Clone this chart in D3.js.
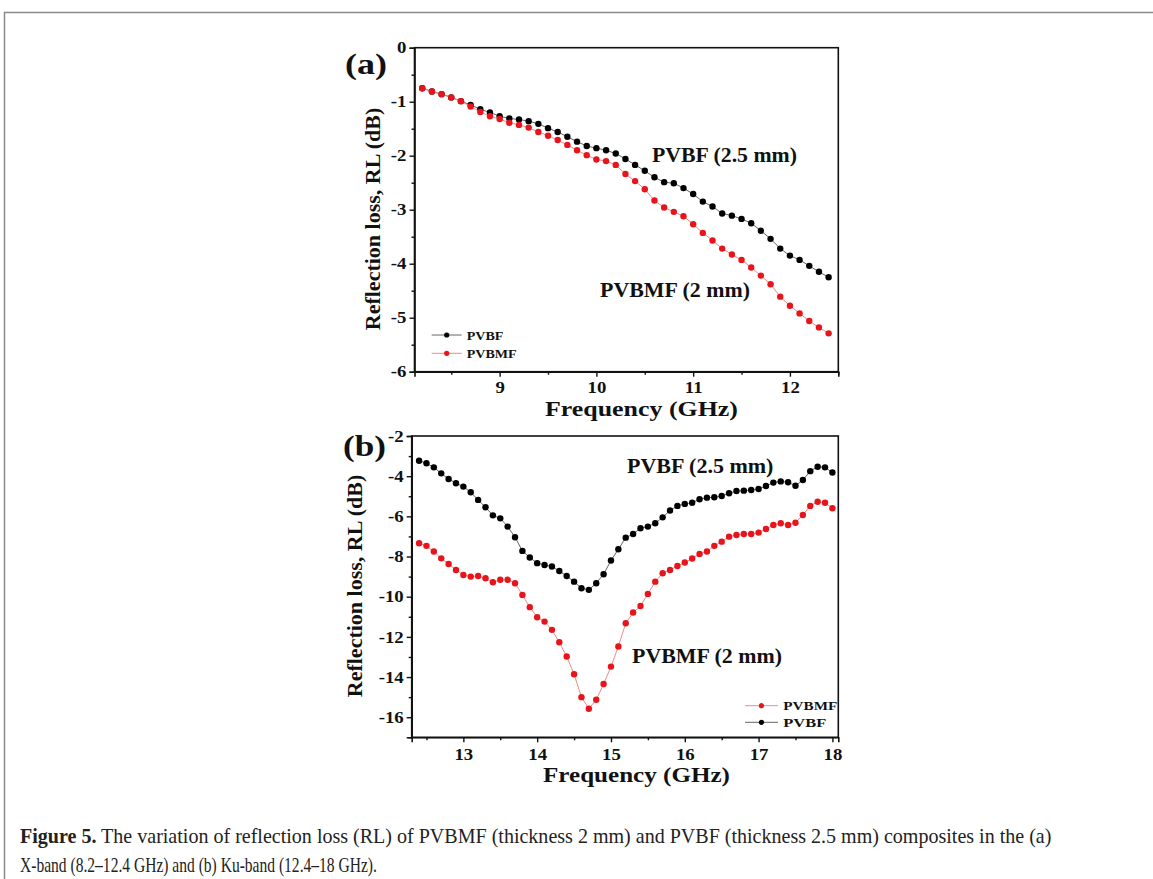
<!DOCTYPE html>
<html><head><meta charset="utf-8">
<script src="https://cdn.jsdelivr.net/npm/d3@7"></script>
<style>body{margin:0;background:#fff}svg{display:block}</style>
</head><body>
<svg id="c" width="1153" height="879"></svg>
<script>
// ---------- DATA ----------
const freqX = [8.2,8.3,8.4,8.5,8.6,8.7,8.8,8.9,9.0,9.1,9.2,9.3,9.4,9.5,9.6,9.7,9.8,9.9,10.0,10.1,10.2,10.3,10.4,10.5,10.6,10.7,10.8,10.9,11.0,11.1,11.2,11.3,11.4,11.5,11.6,11.7,11.8,11.9,12.0,12.1,12.2,12.3,12.4];
const rlPVBF_X = [-0.75,-0.81,-0.86,-0.92,-0.99,-1.06,-1.14,-1.20,-1.27,-1.31,-1.33,-1.36,-1.41,-1.49,-1.56,-1.65,-1.74,-1.82,-1.86,-1.90,-1.96,-2.06,-2.17,-2.28,-2.40,-2.49,-2.51,-2.60,-2.71,-2.85,-2.94,-3.07,-3.11,-3.17,-3.25,-3.39,-3.54,-3.72,-3.85,-3.93,-4.04,-4.15,-4.25];
const rlPVBMF_X = [-0.75,-0.81,-0.86,-0.92,-0.99,-1.09,-1.19,-1.27,-1.32,-1.39,-1.43,-1.48,-1.56,-1.63,-1.71,-1.80,-1.90,-1.99,-2.07,-2.10,-2.17,-2.34,-2.47,-2.62,-2.83,-2.96,-3.04,-3.12,-3.27,-3.43,-3.57,-3.72,-3.83,-3.93,-4.07,-4.22,-4.38,-4.61,-4.78,-4.92,-5.06,-5.18,-5.29];

const freqKu = [12.4,12.5,12.6,12.7,12.8,12.9,13.0,13.1,13.2,13.3,13.4,13.5,13.6,13.7,13.8,13.9,14.0,14.1,14.2,14.3,14.4,14.5,14.6,14.7,14.8,14.9,15.0,15.1,15.2,15.3,15.4,15.5,15.6,15.7,15.8,15.9,16.0,16.1,16.2,16.3,16.4,16.5,16.6,16.7,16.8,16.9,17.0,17.1,17.2,17.3,17.4,17.5,17.6,17.7,17.8,17.9,18.0];
const rlPVBF_Ku = [-3.23,-3.36,-3.56,-3.86,-4.14,-4.35,-4.52,-4.80,-5.18,-5.55,-5.95,-6.10,-6.51,-7.04,-7.72,-8.05,-8.33,-8.42,-8.50,-8.72,-8.97,-9.25,-9.58,-9.66,-9.33,-8.88,-8.20,-7.64,-7.06,-6.88,-6.59,-6.51,-6.34,-6.05,-5.71,-5.48,-5.38,-5.32,-5.15,-5.07,-5.05,-4.99,-4.85,-4.74,-4.72,-4.69,-4.64,-4.49,-4.32,-4.26,-4.30,-4.48,-4.19,-3.75,-3.53,-3.56,-3.82];
const rlPVBMF_Ku = [-7.34,-7.47,-7.75,-8.09,-8.37,-8.67,-8.92,-9.00,-8.97,-9.08,-9.28,-9.16,-9.16,-9.33,-9.91,-10.52,-11.02,-11.24,-11.65,-12.27,-12.98,-13.86,-15.00,-15.58,-15.13,-14.35,-13.48,-12.48,-11.32,-10.79,-10.46,-9.86,-9.25,-8.83,-8.67,-8.47,-8.30,-8.10,-7.87,-7.75,-7.47,-7.26,-7.01,-6.93,-6.88,-6.88,-6.81,-6.63,-6.43,-6.34,-6.43,-6.32,-5.93,-5.48,-5.27,-5.32,-5.60];

const xTicksA = [9,10,11,12];
const xMinorA = [8.5,9.5,10.5,11.5,12.5];
const yTicksA = [0,-1,-2,-3,-4,-5,-6];
const yMinorA = [-0.5,-1.5,-2.5,-3.5,-4.5,-5.5];
const xTicksB = [13,14,15,16,17,18];
const xMinorB = [12.5,13.5,14.5,15.5,16.5,17.5];
const yTicksB = [-2,-4,-6,-8,-10,-12,-14,-16];
const yMinorB = [-3,-5,-7,-9,-11,-13,-15,-17];

const seriesNames = ["PVBF","PVBMF"];
const seriesLabels = ["PVBF (2.5 mm)","PVBMF (2 mm)"];
const xTitle = "Frequency (GHz)";
const yTitle = "Reflection loss, RL (dB)";
const captionBold = "Figure 5.";
const captionLine1 = " The variation of reflection loss (RL) of PVBMF (thickness 2 mm) and PVBF (thickness 2.5 mm) composites in the (a)";
const captionLine2 = "X-band (8.2\u201312.4 GHz) and (b) Ku-band (12.4\u201318 GHz).";

// ---------- STYLE ----------
const SERIF = "'Liberation Serif','Times New Roman',serif";
const COL = {PVBF:"#000000", PVBMF:"#e8141b"};
const LINECOL = {PVBF:"#555555", PVBMF:"#f07a7a"};

const svg = d3.select("#c");
svg.append("rect").attr("width",1153).attr("height",879).attr("fill","#fff");
// outer frame
svg.append("rect").attr("x",4.5).attr("y",12.5).attr("width",1200).attr("height",1000)
  .attr("fill","none").attr("stroke","#8a8a8a").attr("stroke-width",1.5);

// fitted text helper: places text so that it spans [x0, x0+w] at baseline y
function fitText(parent, str, x0, w, y, size, weight) {
  const g = parent.append("g").attr("transform",`translate(${x0},${y})`);
  const t = g.append("text").attr("x",0).attr("y",0)
    .style("font-family",SERIF).style("font-size",size+"px").style("font-weight",weight||"bold")
    .attr("fill","#111").text(str);
  const nat = t.node().getComputedTextLength();
  t.attr("transform",`scale(${w/nat},1)`);
  return t;
}

function panel(cfg) {
  const g = svg.append("g");
  const x = d3.scaleLinear().domain(cfg.xDom).range([cfg.left,cfg.right]);
  const y = d3.scaleLinear().domain(cfg.yDom).range([cfg.bottom,cfg.top]);

  const fmt = d => String(d);
  const ax = g.append("g").attr("transform",`translate(0,${cfg.bottom})`)
    .call(d3.axisBottom(x).tickValues(cfg.xTicks).tickSize(5).tickPadding(cfg.xPad).tickFormat(fmt));
  g.append("g").attr("transform",`translate(0,${cfg.bottom})`)
    .call(d3.axisBottom(x).tickValues(cfg.xMinor).tickSize(3).tickFormat(""))
    .select(".domain").remove();
  const ay = g.append("g").attr("transform",`translate(${cfg.left},0)`)
    .call(d3.axisLeft(y).tickValues(cfg.yTicks).tickSize(5).tickPadding(2).tickFormat(fmt));
  g.append("g").attr("transform",`translate(${cfg.left},0)`)
    .call(d3.axisLeft(y).tickValues(cfg.yMinor).tickSize(3).tickFormat(""))
    .select(".domain").remove();
  g.selectAll(".tick line").attr("stroke","#111").attr("stroke-width",1.4);
  g.selectAll(".domain").attr("stroke","#111").attr("stroke-width",1.6);
  [ax,ay].forEach(a => a.selectAll("text").style("font-family",SERIF)
      .style("font-size","16.5px").style("font-weight","bold").attr("fill","#111")
      .attr("transform","scale(1.14,1)"));

  // frame
  g.append("rect").attr("x",cfg.left).attr("y",cfg.top)
    .attr("width",cfg.right-cfg.left).attr("height",cfg.bottom-cfg.top)
    .attr("fill","none").attr("stroke","#111").attr("stroke-width",1.6);

  // series
  cfg.series.forEach(s => {
    const pts = cfg.freq.map((f,i)=>[f,s.values[i]]);
    g.append("path").datum(pts)
      .attr("d", d3.line().x(d=>x(d[0])).y(d=>y(d[1])))
      .attr("fill","none").attr("stroke",LINECOL[s.name]).attr("stroke-width",0.9);
    g.selectAll(null).data(pts).enter().append("circle")
      .attr("cx",d=>x(d[0])).attr("cy",d=>y(d[1])).attr("r",3.2)
      .attr("fill",COL[s.name]);
  });

  // axis titles
  fitText(g, xTitle, cfg.xTitle[0], cfg.xTitle[1], cfg.xTitle[2], 21, "bold");
  g.append("text")
    .attr("transform",`translate(${cfg.yTitle[0]},${cfg.yTitle[1]}) rotate(-90)`)
    .attr("text-anchor","middle")
    .style("font-family",SERIF).style("font-size","22px").style("font-weight","bold")
    .attr("fill","#111").text(yTitle);

  // panel letter
  fitText(g, cfg.letter, cfg.letterPos[0], cfg.letterPos[1], cfg.letterPos[2], 30, "bold");

  // inline labels
  cfg.labels.forEach(l => fitText(g, l.text, l.x, l.w, l.y, 20, "bold"));

  // legend
  cfg.legend.forEach(l => {
    g.append("line").attr("x1",l.x1).attr("x2",l.x2).attr("y1",l.y).attr("y2",l.y)
      .attr("stroke",LINECOL[l.name]).attr("stroke-width",0.9);
    g.append("circle").attr("cx",(l.x1+l.x2)/2).attr("cy",l.y).attr("r",2.6).attr("fill",COL[l.name]);
    fitText(g, l.name, l.tx, l.tw, l.y+4.5, 12, "bold");
  });
}

panel({
  left:414.5, right:838.3, top:47.7, bottom:371.7,
  xDom:[8.12,12.5], yDom:[-6,0], xPad:5,
  xTicks:xTicksA, xMinor:xMinorA, yTicks:yTicksA, yMinor:yMinorA,
  freq:freqX,
  series:[{name:"PVBF",values:rlPVBF_X},{name:"PVBMF",values:rlPVBMF_X}],
  xTitle:[545,193,415.5], yTitle:[380,219],
  letter:"(a)", letterPos:[345,42,73.5],
  labels:[{text:seriesLabels[0],x:652,w:145,y:162},{text:seriesLabels[1],x:600,w:150,y:297}],
  legend:[{name:seriesNames[0],x1:431.7,x2:461.7,y:335,tx:466.7,tw:36.7},
          {name:seriesNames[1],x1:431.7,x2:461.7,y:353.3,tx:466.7,tw:50}]
});

panel({
  left:411.7, right:838.3, top:436, bottom:737.3,
  xDom:[12.3,18.08], yDom:[-17,-2], xPad:6,
  xTicks:xTicksB, xMinor:xMinorB, yTicks:yTicksB, yMinor:yMinorB,
  freq:freqKu,
  series:[{name:"PVBF",values:rlPVBF_Ku},{name:"PVBMF",values:rlPVBMF_Ku}],
  xTitle:[543,187,782], yTitle:[362,586],
  letter:"(b)", letterPos:[343,43,455.5],
  labels:[{text:seriesLabels[0],x:627,w:146.5,y:473.3},{text:seriesLabels[1],x:632,w:150,y:662.5}],
  legend:[{name:seriesNames[1],x1:745,x2:778,y:705.7,tx:783.3,tw:54},
          {name:seriesNames[0],x1:745,x2:778,y:722.3,tx:783.3,tw:43}]
});

// caption: each line condensed to its width in the reference
(function(){
  const g1 = svg.append("g").attr("transform","translate(20,843)");
  const t1 = g1.append("text").style("font-family",SERIF).style("font-size","21px").attr("fill","#222");
  t1.append("tspan").style("font-weight","bold").text(captionBold);
  t1.append("tspan").text(captionLine1);
  const w1 = t1.node().getComputedTextLength();
  t1.attr("transform",`scale(${1032/w1},1)`);
  const g2 = svg.append("g").attr("transform","translate(20,871.5)");
  const t2 = g2.append("text").style("font-family",SERIF).style("font-size","21px").attr("fill","#222")
    .text(captionLine2);
  const w2 = t2.node().getComputedTextLength();
  t2.attr("transform",`scale(${357/w2},1)`);
})();
</script>
</body></html>
